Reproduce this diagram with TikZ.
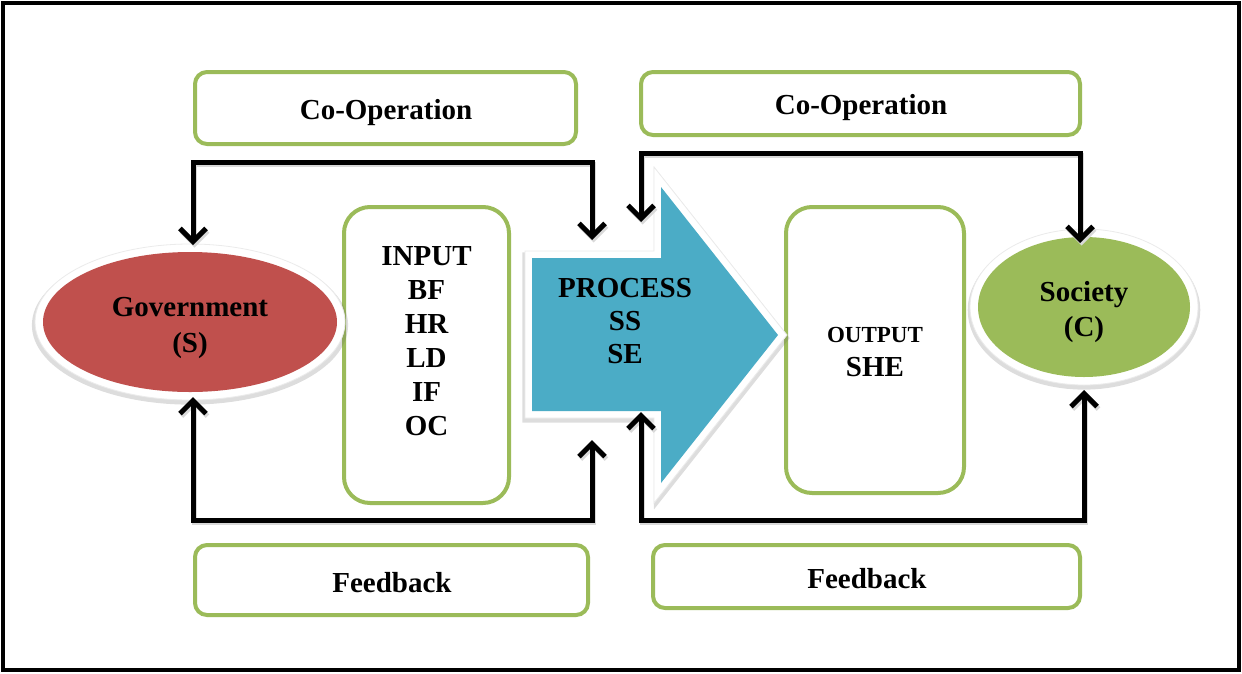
\documentclass[tikz,border=0pt]{standalone}
\usepackage{fontspec}
\setmainfont{Liberation Serif}
\usetikzlibrary{shapes.geometric,arrows.meta,shadows}
\definecolor{gr}{HTML}{9BBB59}
\definecolor{rd}{HTML}{C0504D}
\definecolor{bl}{HTML}{4BACC6}
\begin{document}
\begin{tikzpicture}[x=1pt,y=-1pt,
  lbl/.style={font=\fontsize{29}{34}\selectfont\bfseries, align=center, inner sep=0pt},
  gbox/.style={draw=gr, line width=4pt, rounded corners=12pt, fill=white, inner sep=0pt},
  tallbox/.style={gbox, rounded corners=26pt},
  tip/.tip={Straight Barb[length=13pt,width=26pt]},
  conn/.style={line width=5pt, tip-tip,
    preaction={draw=black!15, line width=5pt, transform canvas={shift={(1.5pt,-2.5pt)}}}},
  halo/.style={fill=white, draw=black!8, line width=0.8pt,
    drop shadow={shadow xshift=0pt, shadow yshift=-3pt, shadow scale=1.02, opacity=.22, fill=black!60}},
  core/.style={ellipse, inner sep=0pt}]

\useasboundingbox (0,0) rectangle (1242,673);
\draw[line width=4pt] (3,3) rectangle (1239,670);

% green boxes
\node[gbox, minimum width=381pt, minimum height=72pt] (coopL) at (385.5,108) {};
\node[lbl] (coopLt) at (386,113) {Co-Operation};
\node[gbox, minimum width=439pt, minimum height=63pt] (coopR) at (860.5,103.5) {};
\node[lbl] (coopRt) at (861,108) {Co-Operation};
\node[gbox, minimum width=393pt, minimum height=70pt] (fbL) at (391.5,580) {};
\node[lbl] (fbLt) at (392,583) {Feedback};
\node[gbox, minimum width=427pt, minimum height=63pt] (fbR) at (866.5,576.5) {};
\node[lbl] (fbRt) at (867,579) {Feedback};
\node[tallbox, minimum width=165pt, minimum height=296pt] (inbox) at (426.5,355) {};
\node[lbl] (intext) at (426.5,341) {INPUT\\BF\\HR\\LD\\IF\\OC};
\node[tallbox, minimum width=178pt, minimum height=286pt] (outbox) at (875,350) {};
\node[lbl] (outtext) at (875,352) {{\fontsize{23}{30}\selectfont OUTPUT}\\SHE};

% process arrow
\path[halo] (525,251) -- (654,251) -- (654,167) -- (787,335) -- (654,503) -- (654,418) -- (525,418) -- cycle;
\fill[bl] (532,258) -- (661,258) -- (661,187) -- (778,335) -- (661,483) -- (661,411) -- (532,411) -- cycle;
\node[lbl, font=\fontsize{29}{33}\selectfont\bfseries] (proc) at (625,321) {PROCESS\\SS\\SE};

% ellipses
\node[core, halo, minimum width=310pt, minimum height=156pt] (govbg) at (190,322) {};
\node[core, fill=rd, minimum width=294pt, minimum height=140pt] (gov) at (190,322) {};
\node[lbl, font=\fontsize{29}{36}\selectfont\bfseries] (govt) at (190,328) {Government\\(S)};
\node[core, halo, minimum width=228pt, minimum height=156pt] (socbg) at (1084,307) {};
\node[core, fill=gr, minimum width=212pt, minimum height=140pt] (soc) at (1084,307) {};
\node[lbl, font=\fontsize{29}{35}\selectfont\bfseries] (soct) at (1084,312) {Society\\(C)};

% connector ends
\coordinate (pTL) at (592,240);
\coordinate (pBL) at (592,440);
\coordinate (pTR) at (641,222);
\coordinate (pBR) at (641,412);
\coordinate (yTL) at (400,162);
\coordinate (yBL) at (400,520);
\coordinate (yTR) at (860,153);
\coordinate (yBR) at (860,520);
\coordinate (gT) at (193,245);
\coordinate (gB) at (193,397);
\coordinate (sT) at (1080,243);
\coordinate (sB) at (1084,390);

\draw[conn] (gT) |- (yTL) -| (pTL);
\draw[conn] (gB) |- (yBL) -| (pBL);
\draw[conn] (pTR) |- (yTR) -| (sT);
\draw[conn] (pBR) |- (yBR) -| (sB);
\end{tikzpicture}
\end{document}
